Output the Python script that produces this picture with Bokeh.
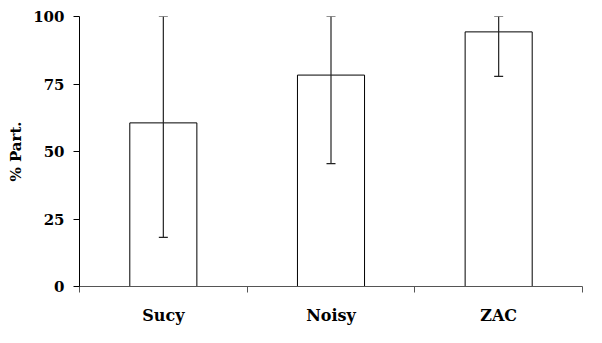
from bokeh.plotting import figure
from bokeh.models import ColumnDataSource, Range1d, FixedTicker, Whisker, TeeHead
from bokeh.embed import file_html
from bokeh.resources import INLINE

categories = ["Sucy", "Noisy", "ZAC"]
values = [60.6, 78.3, 94.3]
err_low = [18.2, 45.5, 77.8]
err_high = [100, 100, 100]
y_ticks = [0, 25, 50, 75, 100]

xs = [i + 0.5 for i in range(len(categories))]
src = ColumnDataSource(dict(x=xs, top=values, lower=err_low, upper=err_high))

p = figure(width=586, height=327, output_backend="svg", toolbar_location=None,
           x_range=Range1d(0, len(categories)), y_range=Range1d(0, 100),
           min_border_left=79, min_border_right=4, min_border_top=16, min_border_bottom=36)
p.outline_line_color = None
p.grid.visible = False
p.background_fill_color = "white"
p.border_fill_color = "white"

p.vbar(x="x", top="top", bottom=0, width=0.4, source=src,
       fill_color="white", line_color="black", line_width=1)

w = Whisker(base="x", lower="lower", upper="upper", source=src, level="overlay",
            line_color="#222222", line_width=1.2,
            upper_head=TeeHead(size=9, line_color="#222222", line_width=1.2),
            lower_head=TeeHead(size=9, line_color="#222222", line_width=1.2))
p.add_layout(w)

font = "DejaVu Serif"
p.xaxis.ticker = FixedTicker(ticks=xs, minor_ticks=list(range(len(categories) + 1)))
p.xaxis.major_label_overrides = {x: c for x, c in zip(xs, categories)}
p.xaxis.major_tick_line_color = None
p.xaxis.major_tick_out = 0
p.xaxis.major_tick_in = 0
p.xaxis.minor_tick_out = 6
p.xaxis.minor_tick_in = 0
p.xaxis.minor_tick_line_color = "#555555"
p.xaxis.axis_line_color = "#555555"
p.xaxis.major_label_standoff = 13
p.xaxis.major_label_text_font = font
p.xaxis.major_label_text_font_style = "bold"
p.xaxis.major_label_text_font_size = "16px"
p.xaxis.major_label_text_color = "black"

p.yaxis.ticker = FixedTicker(ticks=y_ticks)
p.yaxis.minor_tick_line_color = None
p.yaxis.major_tick_out = 6
p.yaxis.major_tick_in = 0
p.yaxis.axis_line_color = "black"
p.yaxis.major_tick_line_color = "black"
p.yaxis.major_label_standoff = 9
p.yaxis.major_label_text_font = font
p.yaxis.major_label_text_font_style = "bold"
p.yaxis.major_label_text_font_size = "15px"
p.yaxis.major_label_text_color = "black"
p.yaxis.axis_label = "% Part."
p.yaxis.axis_label_text_font = font
p.yaxis.axis_label_text_font_style = "bold"
p.yaxis.axis_label_text_font_size = "15px"
p.yaxis.axis_label_text_color = "black"
p.yaxis.axis_label_standoff = 5

open("out.html", "w").write(file_html(p, INLINE))
